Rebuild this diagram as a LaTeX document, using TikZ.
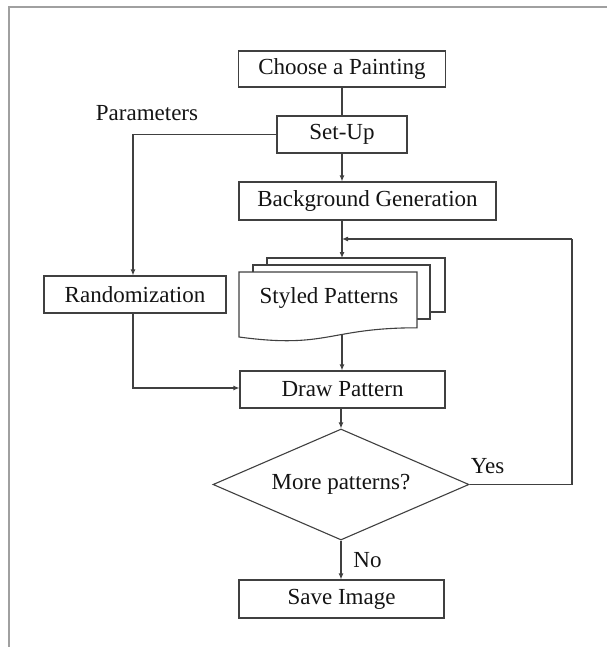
\documentclass[tikz,border=0pt]{standalone}
\usepackage{fontspec}
\setmainfont{Liberation Serif}
\usetikzlibrary{shapes.geometric,arrows.meta}
\definecolor{linec}{HTML}{404040}
\definecolor{framec}{HTML}{A0A0A0}
\definecolor{textc}{HTML}{141414}
\tikzset{
  box/.style={draw=linec, line width=1.1pt, fill=white, minimum height=37pt, inner sep=0pt,
    font=\fontsize{23}{27}\selectfont, text=textc},
  lbl/.style={inner sep=0pt, font=\fontsize{23}{27}\selectfont, text=textc},
  conn/.style={draw=linec, line width=1.1pt},
  arr/.style={-{Latex[length=6pt,width=5pt]}},
  sheet/.style={draw=linec, line width=1.1pt, fill=white}
}
\begin{document}
\begin{tikzpicture}[x=1pt,y=-1pt]
\useasboundingbox (0,0) rectangle (607,647);
\draw[framec, line width=1.5pt] (9,647) -- (9,7) -- (607,7);

\node[box, minimum width=207pt, minimum height=36pt] (choose) at (342,69) {Choose a Painting};
\node[box, minimum width=130pt] (setup) at (342,134.5) {Set-Up};
\node[box, minimum width=257pt, minimum height=38pt] (bg) at (367.5,201) {Background Generation};
\node[lbl] (param) at (147,113) {Parameters};
\node[box, minimum width=182pt] (rand) at (135,294.5) {Randomization};

% stacked documents
\draw[sheet] (267,258) rectangle (445,312);
\draw[sheet] (253,265) rectangle (430,319);
\draw[sheet] (239,272) -- (417,272) -- (417,327.8) .. controls (328,327.8) and (328,349.1) .. (239,337) -- cycle;
\node[lbl] (styled) at (329,298) {Styled Patterns};
\coordinate (stop) at (342,258);
\coordinate (sbot) at (342,334);

\node[box, minimum width=205pt] (draw) at (342.5,389.5) {Draw Pattern};
\node[diamond, aspect=2.3, draw=linec, line width=1.1pt, fill=white, minimum width=256pt, minimum height=111pt,
  inner sep=0pt, font=\fontsize{23}{27}\selectfont, text=textc] (dec) at (341,484.5) {More patterns?};
\node[box, minimum width=205pt, minimum height=38pt] (save) at (341.5,599) {Save Image};
\node[lbl] (yes) at (487.5,466) {Yes};
\node[lbl] (no) at (367.5,560) {No};

\coordinate (loopc) at (572,239);
\coordinate (merge) at (342,239);

\draw[conn] (choose.south -| setup) -- (setup.north);
\draw[conn,arr] (setup.south) -- (setup.south |- bg.north);
\draw[conn,arr] (setup.south |- bg.south) -- (stop);
\draw[conn,arr] (setup.west) -| ([xshift=-2pt]rand.north);
\draw[conn,arr] ([xshift=-2pt]rand.south) |- ([yshift=1.5pt]draw.west);
\draw[conn,arr] (sbot) -- (sbot |- draw.north);
\draw[conn,arr] (draw.south -| dec.north) -- (dec.north);
\draw[conn] (dec.east) -| (loopc);
\draw[conn,arr] (loopc) -- (merge);
\draw[conn,arr] (dec.south) -- (dec.south |- save.north);
\end{tikzpicture}
\end{document}
